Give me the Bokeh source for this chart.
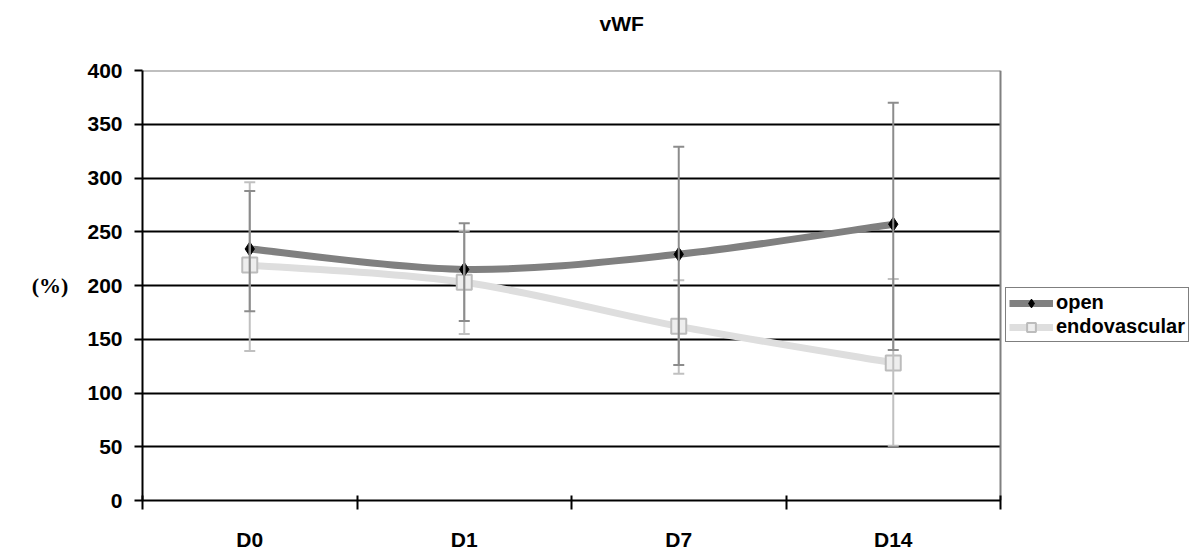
from bokeh.plotting import figure
from bokeh.models import (Range1d, FixedTicker, ColumnDataSource, Whisker, TeeHead,
                          Legend, LegendItem, Grid, Title)
from bokeh.embed import file_html
from bokeh.resources import INLINE

# ---- data ----
categories = ["D0", "D1", "D7", "D14"]
open_mean = [234, 215, 229, 257]
open_upper = [288, 258, 329, 370]
open_lower = [176, 167, 126, 140]
endo_mean = [219, 203, 162, 128]
endo_upper = [296, 251, 205, 206]
endo_lower = [139, 155, 118, 51]
y_ticks = [0, 50, 100, 150, 200, 250, 300, 350, 400]

FONT = "Liberation Sans"
W, H = 1191, 553
LEFT, PLOT_RIGHT = 142, 1000
n = len(categories)
xs = [i + 0.5 for i in range(n)]
y_max = y_ticks[-1]
# frame runs to the canvas edge so the legend (right of the plot area) is not clipped
x_end = n * (W - LEFT) / (PLOT_RIGHT - LEFT)

p = figure(width=W, height=H, output_backend="svg", toolbar_location=None,
           x_range=Range1d(0, x_end), y_range=Range1d(0, y_max + 1e-6),
           min_border_left=LEFT, min_border_right=0, min_border_top=70,
           min_border_bottom=53, background_fill_color="white",
           border_fill_color="white")
p.outline_line_color = None

# real title (outermost) and a blank spacer title between it and the plot area
p.title.text = "vWF"
p.title.text_font = FONT
p.title.text_font_size = "21px"
p.title.text_font_style = "bold"
p.title.text_color = "black"
p.title.align = "left"
p.title.offset = 457
p.title.standoff = 12
p.title.vertical_align = "bottom"
p.add_layout(Title(text=" ", text_font_size="21px", standoff=5), "above")

# y axis
yax = p.yaxis[0]
yax.ticker = FixedTicker(ticks=y_ticks)
yax.axis_line_color = "black"
yax.axis_line_width = 2
yax.major_tick_line_color = "black"
yax.major_tick_line_width = 2
yax.major_tick_out = 8
yax.major_tick_in = 0
yax.minor_tick_line_color = None
yax.major_label_text_font = FONT
yax.major_label_text_font_size = "21px"
yax.major_label_text_font_style = "bold"
yax.major_label_text_color = "black"
yax.major_label_standoff = 12
yax.axis_label = "(%)"
yax.axis_label_orientation = "horizontal"
yax.axis_label_text_font = "Liberation Serif"
yax.axis_label_text_font_size = "22px"
yax.axis_label_text_font_style = "bold"
yax.axis_label_text_color = "black"
yax.axis_label_standoff = 16

# x axis: labels at category centres, ticks at category boundaries
xax = p.xaxis[0]
xax.bounds = (0, n)
xax.ticker = FixedTicker(ticks=xs, minor_ticks=list(range(n + 1)))
xax.major_label_overrides = {x: c for x, c in zip(xs, categories)}
xax.axis_line_color = "black"
xax.axis_line_width = 2
xax.major_tick_line_color = None
xax.major_tick_out = 9
xax.major_tick_in = 0
xax.minor_tick_line_color = "black"
xax.minor_tick_line_width = 2
xax.minor_tick_out = 9
xax.minor_tick_in = 5
xax.major_label_text_font = FONT
xax.major_label_text_font_size = "21px"
xax.major_label_text_font_style = "bold"
xax.major_label_text_color = "black"
xax.major_label_standoff = 18

p.xgrid.grid_line_color = None
p.ygrid.ticker = FixedTicker(ticks=y_ticks[1:-1])
p.ygrid.grid_line_color = "black"
p.ygrid.grid_line_width = 2
p.ygrid.cross_bounds = (0, n)
# plot-area border (top and right, grey)
p.add_layout(Grid(dimension=1, ticker=FixedTicker(ticks=[y_max]), cross_bounds=(0, n),
                  grid_line_color="#808080", grid_line_width=2))
p.add_layout(Grid(dimension=0, ticker=FixedTicker(ticks=[n]), cross_bounds=(0, y_max),
                  grid_line_color="#808080", grid_line_width=2))


def bezier_source(ys):
    m = len(ys)
    d = dict(x0=[], y0=[], x1=[], y1=[], cx0=[], cy0=[], cx1=[], cy1=[])
    for i in range(m - 1):
        xm, ym = xs[max(i - 1, 0)], ys[max(i - 1, 0)]
        xp, yp = xs[min(i + 2, m - 1)], ys[min(i + 2, m - 1)]
        d["x0"].append(xs[i]); d["y0"].append(ys[i])
        d["x1"].append(xs[i + 1]); d["y1"].append(ys[i + 1])
        d["cx0"].append(xs[i] + (xs[i + 1] - xm) / 6)
        d["cy0"].append(ys[i] + (ys[i + 1] - ym) / 6)
        d["cx1"].append(xs[i + 1] - (xp - xs[i]) / 6)
        d["cy1"].append(ys[i + 1] - (yp - ys[i]) / 6)
    return ColumnDataSource(d)


OPEN_LINE = "#808080"
ENDO_LINE = "#dedede"

# error bars
endo_err = ColumnDataSource(dict(x=xs, upper=endo_upper, lower=endo_lower))
open_err = ColumnDataSource(dict(x=xs, upper=open_upper, lower=open_lower))
for src, col in ((endo_err, "#c0c0c0"), (open_err, "#8c8c8c")):
    w = Whisker(base="x", upper="upper", lower="lower", source=src, dimension="height",
                line_color=col, line_width=2, level="glyph",
                upper_head=TeeHead(size=11, line_color=col, line_width=2),
                lower_head=TeeHead(size=11, line_color=col, line_width=2))
    p.add_layout(w)

# smoothed lines
endo_l = p.bezier(x0="x0", y0="y0", x1="x1", y1="y1", cx0="cx0", cy0="cy0", cx1="cx1",
                  cy1="cy1", source=bezier_source(endo_mean), line_color=ENDO_LINE,
                  line_width=7)
open_l = p.bezier(x0="x0", y0="y0", x1="x1", y1="y1", cx0="cx0", cy0="cy0", cx1="cx1",
                  cy1="cy1", source=bezier_source(open_mean), line_color=OPEN_LINE,
                  line_width=7)

# markers
endo_m = p.scatter(xs, endo_mean, marker="square", size=15, fill_color="#eeeeee",
                   line_color="#bcbcbc", line_width=2)
open_m = p.scatter(xs, open_mean, marker="diamond", size=14, fill_color="black",
                   line_color="black", line_width=1)

legend = Legend(items=[LegendItem(label="open", renderers=[open_l, open_m]),
                       LegendItem(label="endovascular", renderers=[endo_l, endo_m])],
                location=(PLOT_RIGHT + 5 - LEFT, 158), orientation="vertical",
                border_line_color="black", border_line_width=1.5,
                background_fill_color="white", background_fill_alpha=1,
                label_text_font=FONT, label_text_font_size="20px",
                label_text_font_style="bold", label_text_color="black",
                glyph_width=44, glyph_height=22, label_height=22,
                label_standoff=3, spacing=1, padding=3, margin=0)
p.add_layout(legend, "center")

open("out.html", "w").write(file_html(p, INLINE))
